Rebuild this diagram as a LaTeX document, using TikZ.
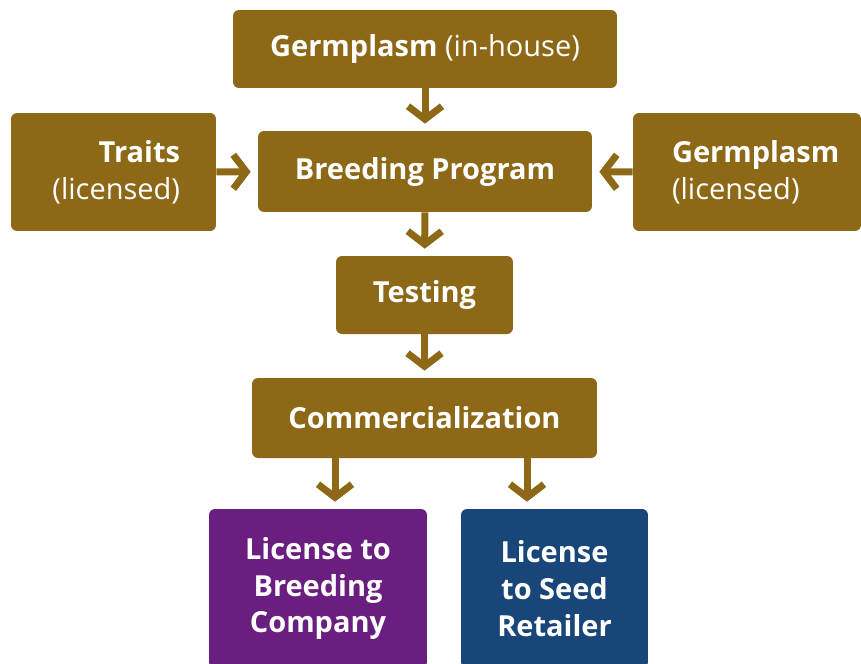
\documentclass[tikz,border=0pt]{standalone}
\usepackage{fontspec}
\setmainfont{Open Sans}
\usetikzlibrary{arrows.meta}
\definecolor{seedbrown}{RGB}{141,104,22}
\definecolor{licpurple}{RGB}{106,30,128}
\definecolor{licblue}{RGB}{24,70,120}
\tikzset{
  box/.style={fill=seedbrown, rounded corners=0.12cm, text=white, inner sep=0pt,
    font=\fontsize{16.5}{21}\selectfont},
  flow/.style={draw=seedbrown, line width=0.14cm,
    -{Straight Barb[length=2.6mm,width=6.8mm]}, shorten >=0.14cm}
}
\begin{document}
\begin{tikzpicture}[x=0.02cm,y=-0.02cm]
\useasboundingbox (0,0) rectangle (861,663);
\node[box, minimum width=7.68cm, minimum height=1.56cm] (germIn) at (425,49)
  {\textbf{Germplasm} (in-house)};
\node[box, minimum height=2.36cm, text width=2.66cm, inner xsep=0.72cm, align=right]
  (traits) at (113.5,172) {\textbf{Traits}\\(licensed)};
\node[box, minimum width=6.68cm, minimum height=1.62cm, font=\fontsize{16.5}{21}\selectfont\bfseries]
  (breeding) at (425,171.5) {Breeding Program};
\node[box, minimum height=2.36cm, text width=3.0cm, inner xsep=0.78cm, align=left]
  (germLic) at (747,172) {\textbf{Germplasm}\\(licensed)};
\node[box, minimum width=3.54cm, minimum height=1.56cm, font=\fontsize{16.5}{21}\selectfont\bfseries]
  (testing) at (424.5,295) {Testing};
\node[box, minimum width=6.9cm, minimum height=1.6cm, font=\fontsize{16.5}{21}\selectfont\bfseries]
  (commerc) at (424.5,418) {Commercialization};
\node[box, fill=licpurple, minimum width=4.36cm, minimum height=3.18cm, align=center,
  font=\fontsize{16.5}{21}\selectfont\bfseries]
  (licBreed) at (318,588.5) {License to\\Breeding\\Company};
\node[box, fill=licblue, minimum width=3.74cm, minimum height=3.18cm, align=center,
  font=\fontsize{16.5}{21}\selectfont\bfseries]
  (licSeed) at (554.5,588.5) {License\\to Seed\\Retailer};
\draw[flow] (germIn) -- (breeding);
\draw[flow] (traits) -- (breeding);
\draw[flow] (germLic) -- (breeding);
\draw[flow] (breeding) -- (testing);
\draw[flow] (testing) -- (commerc);
\draw[flow] ([xshift=0.34cm]licBreed.north |- commerc.south) -- ([xshift=0.34cm]licBreed.north);
\draw[flow] ([xshift=-0.55cm]licSeed.north |- commerc.south) -- ([xshift=-0.55cm]licSeed.north);
\end{tikzpicture}
\end{document}
